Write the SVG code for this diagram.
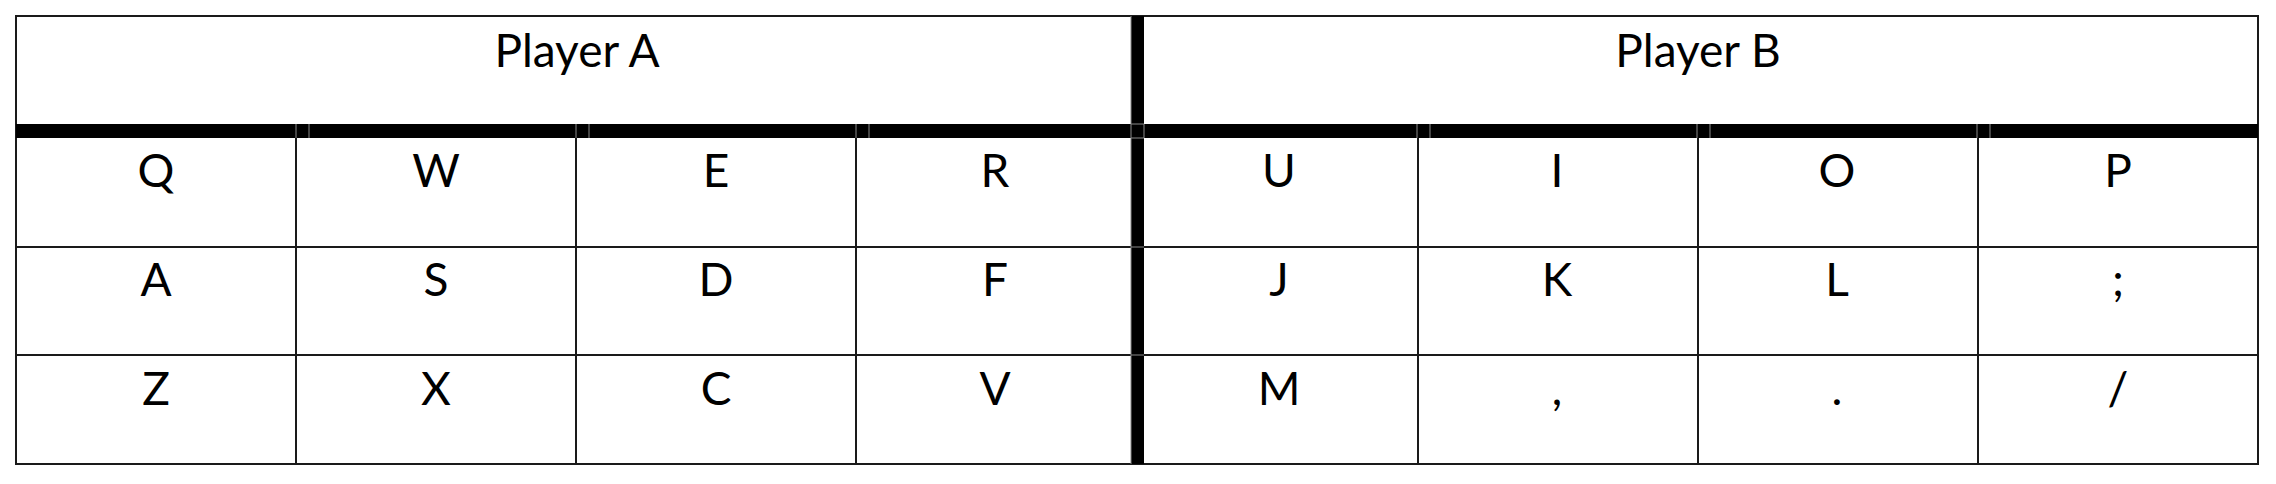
<svg xmlns="http://www.w3.org/2000/svg" width="2276" height="484" viewBox="0 0 2276 484">
<style>
.t{font-family:Lato,"Liberation Sans",sans-serif;font-size:46px;fill:#000;text-anchor:middle}
.thin{stroke:#1a1a1a;stroke-width:2;fill:none}
.gap{stroke:#8a8a8a;stroke-width:1}
</style>
<rect width="2276" height="484" fill="#fff"/>
<g id="grid">
<rect x="16" y="16" width="2242" height="448" class="thin"/>
<line x1="16" y1="247" x2="2258" y2="247" class="thin"/>
<line x1="16" y1="355" x2="2258" y2="355" class="thin"/>
<line x1="296" y1="138" x2="296" y2="464" class="thin"/>
<line x1="576" y1="138" x2="576" y2="464" class="thin"/>
<line x1="856" y1="138" x2="856" y2="464" class="thin"/>
<line x1="1418" y1="138" x2="1418" y2="464" class="thin"/>
<line x1="1698" y1="138" x2="1698" y2="464" class="thin"/>
<line x1="1978" y1="138" x2="1978" y2="464" class="thin"/>
<rect x="16" y="124" width="2242" height="14" fill="#000"/>
<rect x="1131" y="16" width="13" height="448" fill="#000"/>
<line x1="1131" y1="16" x2="1131" y2="464" class="gap"/>
<g class="gap">
<line x1="296" y1="124" x2="296" y2="138"/><line x1="309" y1="124" x2="309" y2="138"/>
<line x1="576" y1="124" x2="576" y2="138"/><line x1="589" y1="124" x2="589" y2="138"/>
<line x1="856" y1="124" x2="856" y2="138"/><line x1="869" y1="124" x2="869" y2="138"/>
<line x1="1144" y1="124" x2="1144" y2="138"/>
<line x1="1131" y1="124" x2="1144" y2="124"/><line x1="1131" y1="138" x2="1144" y2="138"/>
<line x1="1131" y1="247" x2="1144" y2="247"/><line x1="1131" y1="355" x2="1144" y2="355"/>
<line x1="1417" y1="124" x2="1417" y2="138"/><line x1="1430" y1="124" x2="1430" y2="138"/>
<line x1="1697" y1="124" x2="1697" y2="138"/><line x1="1710" y1="124" x2="1710" y2="138"/>
<line x1="1977" y1="124" x2="1977" y2="138"/><line x1="1990" y1="124" x2="1990" y2="138"/>
</g>
</g>
<g id="header-a"><text class="t" x="577" y="67">Player A</text></g>
<g id="header-b"><text class="t" x="1698" y="67">Player B</text></g>
<g id="row1">
<g id="k-q"><text class="t" x="156" y="187">Q</text></g>
<g id="k-w"><text class="t" x="436" y="187">W</text></g>
<g id="k-e"><text class="t" x="716" y="187">E</text></g>
<g id="k-r"><text class="t" x="995" y="187">R</text></g>
<g id="k-u"><text class="t" x="1279" y="187">U</text></g>
<g id="k-i"><text class="t" x="1557" y="187">I</text></g>
<g id="k-o"><text class="t" x="1837" y="187">O</text></g>
<g id="k-p"><text class="t" x="2118" y="187">P</text></g>
</g>
<g id="row2">
<g id="k-a"><text class="t" x="156" y="296">A</text></g>
<g id="k-s"><text class="t" x="436" y="296">S</text></g>
<g id="k-d"><text class="t" x="716" y="296">D</text></g>
<g id="k-f"><text class="t" x="995" y="296">F</text></g>
<g id="k-j"><text class="t" x="1279" y="296">J</text></g>
<g id="k-k"><text class="t" x="1557" y="296">K</text></g>
<g id="k-l"><text class="t" x="1837" y="296">L</text></g>
<g id="k-semi"><text class="t" x="2118" y="296">;</text></g>
</g>
<g id="row3">
<g id="k-z"><text class="t" x="156" y="405">Z</text></g>
<g id="k-x"><text class="t" x="436" y="405">X</text></g>
<g id="k-c"><text class="t" x="716" y="405">C</text></g>
<g id="k-v"><text class="t" x="995" y="405">V</text></g>
<g id="k-m"><text class="t" x="1279" y="405">M</text></g>
<g id="k-comma"><text class="t" x="1557" y="405">,</text></g>
<g id="k-period"><text class="t" x="1837" y="405">.</text></g>
<g id="k-slash"><text class="t" x="2118" y="405">/</text></g>
</g>
</svg>
